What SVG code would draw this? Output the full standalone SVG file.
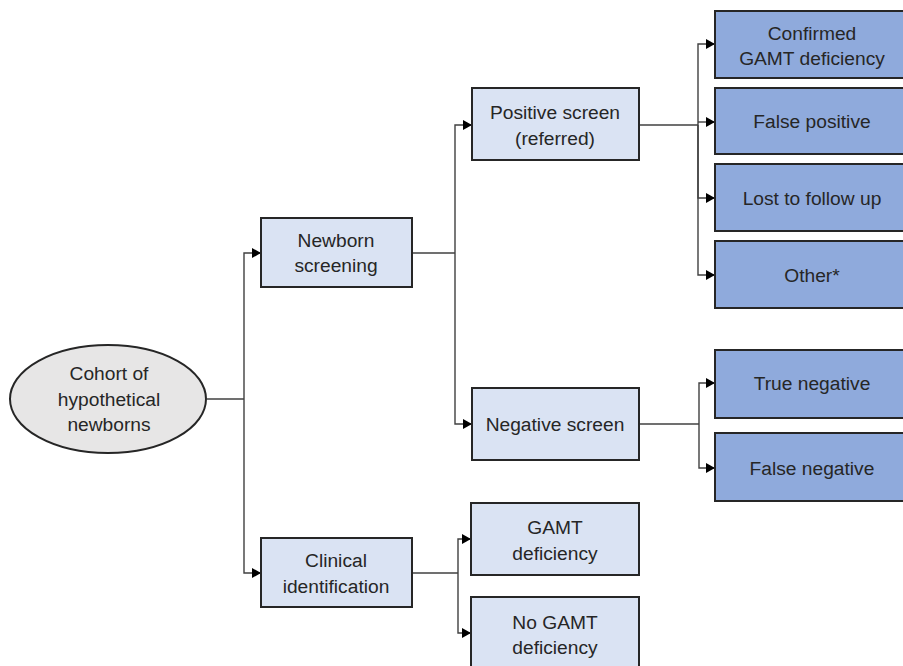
<svg xmlns="http://www.w3.org/2000/svg" width="903" height="666" viewBox="0 0 903 666">
  <style>
    .lt { fill: #DAE3F3; stroke: #262626; stroke-width: 2; }
    .dk { fill: #8FAADC; stroke: #262626; stroke-width: 2; }
    .el { fill: #E7E6E6; stroke: #262626; stroke-width: 2; }
    .t { font-family: "Liberation Sans", Arial, sans-serif; font-size: 19.2px; fill: #262626; text-anchor: middle; }
    .c { fill: none; stroke: #404040; stroke-width: 1.4; marker-end: url(#arr); }
    .cn { fill: none; stroke: #404040; stroke-width: 1.4; }
  </style>
  <defs>
    <marker id="arr" markerUnits="userSpaceOnUse" markerWidth="9" markerHeight="10" refX="9" refY="5" orient="auto">
      <path d="M0,0 L9,5 L0,10 z" fill="#000"/>
    </marker>
  </defs>
  <rect width="903" height="666" fill="#fff"/>

  <g id="connectors">
    <path class="cn" d="M207,399 H244"/>
    <path class="c" d="M244,399 V253 H261"/>
    <path class="c" d="M244,399 V573 H261"/>
    <path class="cn" d="M412,253 H455"/>
    <path class="c" d="M455,253 V125 H472"/>
    <path class="c" d="M455,253 V424 H472"/>
    <path class="cn" d="M639,125 H698"/>
    <path class="c" d="M698,125 V44 H715"/>
    <path class="c" d="M698,122 H715"/>
    <path class="c" d="M698,125 V198 H715"/>
    <path class="c" d="M698,125 V275 H715"/>
    <path class="cn" d="M639,424 H699"/>
    <path class="c" d="M699,424 V383 H715"/>
    <path class="c" d="M699,424 V468 H715"/>
    <path class="cn" d="M412,573 H458"/>
    <path class="c" d="M458,573 V539 H471"/>
    <path class="c" d="M458,573 V633 H471"/>
  </g>

  <g id="cohort">
    <ellipse class="el" cx="108" cy="399" rx="98" ry="54"/>
    <text class="t" x="109" y="380">Cohort of</text>
    <text class="t" x="109" y="406">hypothetical</text>
    <text class="t" x="109" y="431">newborns</text>
  </g>

  <g id="newborn-screening">
    <rect class="lt" x="261" y="218" width="151" height="69"/>
    <text class="t" x="336" y="247">Newborn</text>
    <text class="t" x="336" y="272">screening</text>
  </g>

  <g id="clinical-identification">
    <rect class="lt" x="261" y="538" width="151" height="69"/>
    <text class="t" x="336" y="567">Clinical</text>
    <text class="t" x="336" y="593">identification</text>
  </g>

  <g id="positive-screen">
    <rect class="lt" x="472" y="88" width="167" height="72"/>
    <text class="t" x="555" y="119">Positive screen</text>
    <text class="t" x="555" y="145">(referred)</text>
  </g>

  <g id="negative-screen">
    <rect class="lt" x="472" y="388" width="167" height="72"/>
    <text class="t" x="555" y="431">Negative screen</text>
  </g>

  <g id="gamt-deficiency">
    <rect class="lt" x="471" y="503" width="168" height="72"/>
    <text class="t" x="555" y="534">GAMT</text>
    <text class="t" x="555" y="560">deficiency</text>
  </g>

  <g id="no-gamt-deficiency">
    <rect class="lt" x="471" y="597" width="168" height="80"/>
    <text class="t" x="555" y="629">No GAMT</text>
    <text class="t" x="555" y="654">deficiency</text>
  </g>

  <g id="confirmed">
    <rect class="dk" x="715" y="11" width="200" height="67"/>
    <text class="t" x="812" y="40">Confirmed</text>
    <text class="t" x="812" y="65">GAMT deficiency</text>
  </g>

  <g id="false-positive">
    <rect class="dk" x="715" y="88" width="200" height="66"/>
    <text class="t" x="812" y="128">False positive</text>
  </g>

  <g id="lost-to-follow-up">
    <rect class="dk" x="715" y="164" width="200" height="67"/>
    <text class="t" x="812" y="205">Lost to follow up</text>
  </g>

  <g id="other">
    <rect class="dk" x="715" y="241" width="200" height="67"/>
    <text class="t" x="812" y="282">Other*</text>
  </g>

  <g id="true-negative">
    <rect class="dk" x="715" y="350" width="200" height="68"/>
    <text class="t" x="812" y="390">True negative</text>
  </g>

  <g id="false-negative">
    <rect class="dk" x="715" y="433" width="200" height="68"/>
    <text class="t" x="812" y="475">False negative</text>
  </g>
</svg>
